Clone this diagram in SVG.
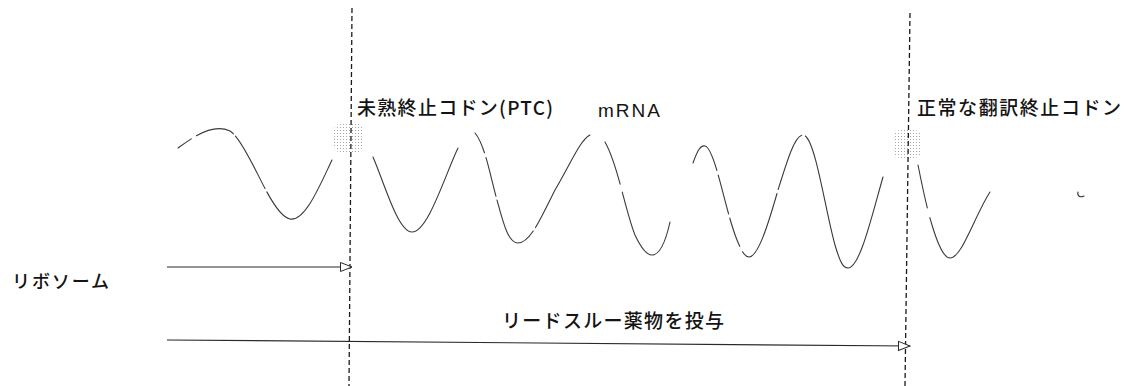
<svg xmlns="http://www.w3.org/2000/svg" width="1138" height="386" viewBox="0 0 1138 386">
<style>
.lbl{font-family:"Noto Sans CJK JP","Liberation Sans",sans-serif;fill:#141414;font-weight:500;}
.wave{fill:none;stroke:#3a3a3a;stroke-width:1.1;stroke-linecap:round;}
.guide{fill:none;stroke:#1a1a1a;stroke-width:1.3;stroke-dasharray:5 3;}
.arrow{fill:none;stroke:#2a2a2a;stroke-width:1.2;}
</style>
<defs>
<pattern id="dots" width="3" height="3" patternUnits="userSpaceOnUse">
<rect x="1" y="1" width="1" height="1" fill="#a8a8a8"/>
</pattern>
<marker id="open" viewBox="0 0 12 10" refX="12" refY="5" markerWidth="12" markerHeight="10" markerUnits="userSpaceOnUse" orient="auto" overflow="visible">
<path d="M0.5,0.5 L12,5 L0.5,9.5 Z" fill="#fff" stroke="#2a2a2a" stroke-width="1"/>
</marker>
</defs>
<rect width="1138" height="386" fill="#fff"/>

<g id="mrna">
<path class="wave" stroke-dasharray="16 6 40 3 60 4 1000 0" d="M178,148 C200,132 215,124 230,131 C250,145 270,215 290,219 C305,222 320,185 332,160"/>
<path class="wave" stroke-dasharray="1000 0" d="M373,157 C385,185 398,232 412,232 C428,232 445,175 458,148"/>
<path class="wave" stroke-dasharray="22 5 40 4 70 4 1000 0" d="M475,133 C485,145 490,175 497,200 C503,222 508,243 518,243 C530,243 540,220 555,190 C570,165 580,140 590,135"/>
<path class="wave" stroke-dasharray="45 8 1000 0" d="M605,142 C618,165 625,210 635,235 C642,250 648,255 652,255 C660,255 666,240 670,222"/>
<path class="wave" stroke-dasharray="50 5 40 4 30 6 80 4 60 4 1000 0" d="M693,163 C697,152 700,145 705,146 C715,148 725,210 737,240 C742,252 745,257 749,257 C758,257 768,225 778,190 C788,158 795,135 803,135 C815,135 825,210 835,245 C840,262 843,268 848,268 C860,268 872,215 883,177"/>
<path class="wave" stroke-dasharray="44 10 1000 0" d="M918,165 C922,185 926,205 932,225 C938,245 944,258 950,258 C962,258 975,215 990,192"/>
<path class="wave" stroke-width="0.9" d="M1078,192 C1077,196 1080,198 1084,196"/>
</g>

<g id="ptc-site">
<rect x="334" y="123" width="29" height="30" rx="8" fill="url(#dots)"/>
</g>
<g id="normal-stop-site">
<rect x="893" y="130" width="29" height="28" rx="8" fill="url(#dots)"/>
</g>

<g id="guides">
<line class="guide" x1="352" y1="8" x2="349" y2="386"/>
<line class="guide" x1="910" y1="13" x2="905" y2="386"/>
</g>

<g id="label-ptc">
<text class="lbl" x="357" y="115" font-size="19" textLength="196" lengthAdjust="spacing">未熟終止コドン(PTC)</text>
</g>
<g id="label-mrna">
<text class="lbl" x="598" y="117" font-size="19" textLength="62" lengthAdjust="spacing" style="font-family:'Liberation Sans',sans-serif">mRNA</text>
</g>
<g id="label-normal-stop">
<text class="lbl" x="917" y="115" font-size="19" textLength="204" lengthAdjust="spacing">正常な翻訳終止コドン</text>
</g>
<g id="label-ribosome">
<text class="lbl" x="12" y="288" font-size="18" textLength="97" lengthAdjust="spacing">リボソーム</text>
</g>
<g id="label-readthrough">
<text class="lbl" x="502" y="328" font-size="19" textLength="222" lengthAdjust="spacing">リードスルー薬物を投与</text>
</g>

<g id="connectors">
<line class="arrow" x1="167" y1="267" x2="352" y2="267" marker-end="url(#open)"/>
<line class="arrow" x1="167" y1="340" x2="910" y2="346" marker-end="url(#open)"/>
</g>
</svg>
